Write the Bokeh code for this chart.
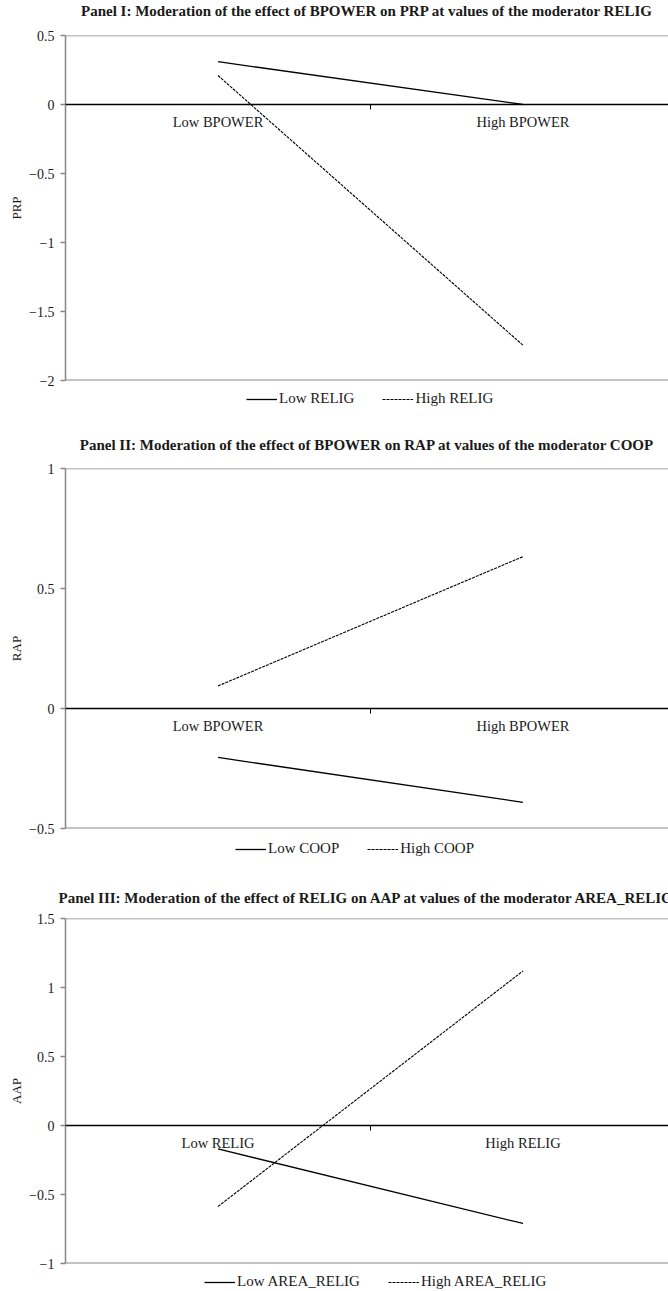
import math
import numpy as np
from bokeh.plotting import figure
from bokeh.layouts import column
from bokeh.models import (Range1d, FixedTicker, Legend, LegendItem, Span, Title)
from bokeh.core.properties import value
from bokeh.embed import file_html
from bokeh.resources import INLINE

# ---------------- data ----------------
p1_title = "Panel I: Moderation of the effect of BPOWER on PRP at values of the moderator RELIG"
p1_categories = ["Low BPOWER", "High BPOWER"]
p1_ylabel = "PRP"
p1_series = ["Low RELIG", "High RELIG"]
p1_low = [0.31, 0.0]
p1_high = [0.21, -1.745]
p1_yticks = [-2, -1.5, -1, -0.5, 0, 0.5]

p2_title = "Panel II: Moderation of the effect of BPOWER on RAP at values of the moderator COOP"
p2_categories = ["Low BPOWER", "High BPOWER"]
p2_ylabel = "RAP"
p2_series = ["Low COOP", "High COOP"]
p2_low = [-0.204, -0.391]
p2_high = [0.094, 0.633]
p2_yticks = [-0.5, 0, 0.5, 1]

p3_title = "Panel III: Moderation of the effect of RELIG on AAP at values of the moderator AREA_RELIG"
p3_categories = ["Low RELIG", "High RELIG"]
p3_ylabel = "AAP"
p3_series = ["Low AREA_RELIG", "High AREA_RELIG"]
p3_low = [-0.17, -0.71]
p3_high = [-0.587, 1.12]
p3_yticks = [-1, -0.5, 0, 0.5, 1, 1.5]

SERIF = "Liberation Serif"
GRAY = "#868686"
TXT = "#1a1a1a"
LOW_STYLE = dict(line_color="black", line_width=1.3)
HIGH_STYLE = dict(line_color="black", line_width=1.1, line_dash="3 1")


def fmt(v):
    return f"{v:g}".replace("-", "\u2212")


def make_panel(title, cats, ylabel, low, high, yticks,
               frame_h, top_b, title_gap):
    xs = [i + 0.5 for i in range(len(cats))]
    bounds = [float(i) for i in range(1, len(cats))]
    p = figure(frame_width=603, frame_height=frame_h,
               output_backend="svg", toolbar_location=None, tools="",
               x_range=Range1d(0, 1.977),
               y_range=Range1d(min(yticks), max(yticks)),
               min_border_left=65, min_border_right=0,
               min_border_top=top_b, min_border_bottom=8,
               background_fill_color="white", border_fill_color="white",
               outline_line_color=None)
    p.grid.visible = False
    p.xaxis.visible = False

    # spacer between frame and title, then the title itself
    p.title = None
    p.add_layout(Title(text=" ", text_font_size="1px", standoff=title_gap),
                 "above")
    p.add_layout(Title(text=title, text_font=SERIF, text_font_style="bold",
                       text_font_size="15px", text_color=TXT, align="center",
                       standoff=0), "above")

    ya = p.yaxis[0]
    ya.ticker = FixedTicker(ticks=yticks)
    ya.major_label_overrides = {t: fmt(t) for t in yticks}
    ya.axis_label = ylabel
    ya.axis_label_text_font = SERIF
    ya.axis_label_text_font_style = "normal"
    ya.axis_label_text_font_size = "13px"
    ya.axis_label_text_color = TXT
    ya.axis_label_standoff = 2
    ya.major_label_text_font = SERIF
    ya.major_label_text_font_size = "14px"
    ya.major_label_text_color = TXT
    ya.axis_line_color = GRAY
    ya.axis_line_width = 1.5
    ya.major_tick_line_color = GRAY
    ya.major_tick_line_width = 1.5
    ya.major_tick_out = 5
    ya.major_tick_in = 0
    ya.minor_tick_line_color = None
    ya.major_label_standoff = 6

    p.add_layout(Span(location=max(yticks), dimension="width",
                      line_color=GRAY, line_width=1.5))
    p.add_layout(Span(location=min(yticks), dimension="width",
                      line_color=GRAY, line_width=2))
    p.add_layout(Span(location=0, dimension="width",
                      line_color="black", line_width=1.3))
    p.ray(x=bounds, y=[0] * len(bounds), length=5, length_units="screen",
          angle=-math.pi / 2, line_color="black", line_width=1)
    p.text(x=xs, y=[0] * len(xs), text=cats, text_font=value(SERIF),
           text_font_size="14.5px", text_color=TXT, text_align="center",
           text_baseline="top", y_offset=9)

    p.line(xs, low, **LOW_STYLE)
    p.line(xs, high, **HIGH_STYLE)
    return p


def make_legend(series, height, legend_x, legend_y):
    q = figure(frame_width=603, frame_height=height,
               output_backend="svg", toolbar_location=None, tools="",
               x_range=Range1d(0, 1), y_range=Range1d(0, 1),
               min_border_left=65, min_border_right=0,
               min_border_top=0, min_border_bottom=0,
               background_fill_color="white", border_fill_color="white",
               outline_line_color=None)
    q.axis.visible = False
    q.grid.visible = False
    # legend proxies: no visible data, only their line styles are used
    r_low = q.line([np.nan], [np.nan], **LOW_STYLE)
    r_high = q.line([np.nan], [np.nan], **HIGH_STYLE)
    leg = Legend(items=[LegendItem(label=series[0], renderers=[r_low]),
                        LegendItem(label=series[1], renderers=[r_high])],
                 orientation="horizontal", location=(legend_x, legend_y))
    leg.border_line_color = None
    leg.background_fill_alpha = 0
    leg.glyph_width = 31
    leg.glyph_height = 16
    leg.label_height = 16
    leg.label_standoff = 2
    leg.spacing = 28
    leg.padding = 0
    leg.margin = 0
    leg.label_text_font = SERIF
    leg.label_text_font_size = "15px"
    leg.label_text_color = TXT
    q.add_layout(leg)
    return q


f1 = make_panel(p1_title, p1_categories, p1_ylabel, p1_low, p1_high,
                p1_yticks, 345, 35, 14)
l1 = make_legend(p1_series, 34, 181, 15)
f2 = make_panel(p2_title, p2_categories, p2_ylabel, p2_low, p2_high,
                p2_yticks, 360, 46, 13)
l2 = make_legend(p2_series, 30, 170, 9)
f3 = make_panel(p3_title, p3_categories, p3_ylabel, p3_low, p3_high,
                p3_yticks, 345, 52, 10)
l3 = make_legend(p3_series, 20, 139, 1)

layout = column(f1, l1, f2, l2, f3, l3, spacing=0)
open("out.html", "w").write(file_html(layout, INLINE))
